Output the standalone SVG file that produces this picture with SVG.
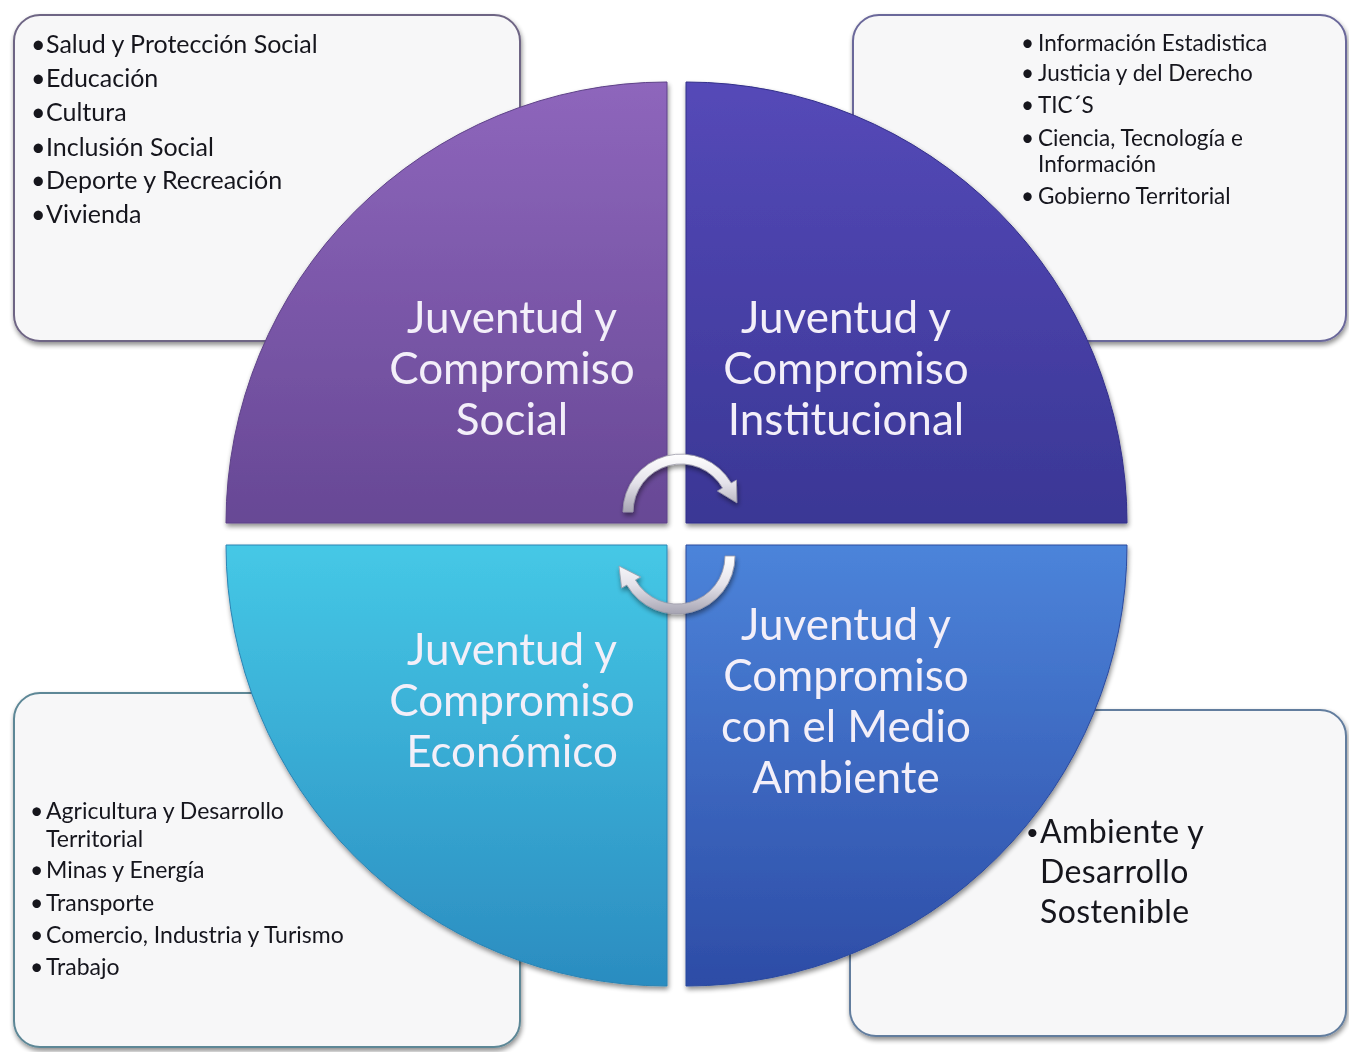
<svg xmlns="http://www.w3.org/2000/svg" width="1349" height="1052" viewBox="0 0 1349 1052">
<defs>
<filter id="sh" x="-10%" y="-10%" width="120%" height="120%">
<feGaussianBlur in="SourceAlpha" stdDeviation="2.5"/>
<feOffset dx="1" dy="3" result="b"/>
<feComponentTransfer><feFuncA type="linear" slope="0.45"/></feComponentTransfer>
<feMerge><feMergeNode/><feMergeNode in="SourceGraphic"/></feMerge>
</filter>
<linearGradient id="gTL" x1="0" y1="0" x2="0" y2="1"><stop offset="0" stop-color="#8e66bc"/><stop offset="1" stop-color="#674895"/></linearGradient>
<linearGradient id="gTR" x1="0" y1="0" x2="0" y2="1"><stop offset="0" stop-color="#5549b8"/><stop offset="1" stop-color="#3a3795"/></linearGradient>
<linearGradient id="gBL" x1="0" y1="0" x2="0" y2="1"><stop offset="0" stop-color="#45c8e6"/><stop offset="1" stop-color="#2b8cc0"/></linearGradient>
<linearGradient id="gBR" x1="0" y1="0" x2="0" y2="1"><stop offset="0" stop-color="#4c84da"/><stop offset="1" stop-color="#2d4ca6"/></linearGradient>
<linearGradient id="gAr" x1="0" y1="0" x2="0" y2="1"><stop offset="0" stop-color="#ffffff"/><stop offset="0.5" stop-color="#e4e2ea"/><stop offset="1" stop-color="#a6a4b2"/></linearGradient>
<style>
.box{fill:#f7f7f8;stroke-width:2}
.q{stroke-width:1}
.lbl{font-family:Lato,"Open Sans","Liberation Sans",sans-serif;font-size:44px;fill:#f3eff9;text-anchor:middle}
.li{font-family:Lato,"Open Sans","Liberation Sans",sans-serif;fill:#15151e}
.t1{font-size:25px}
.t2{font-size:22.5px}
.t3{font-size:23px}
.t4{font-size:32px;letter-spacing:0.4px}
.bu{font-size:22px}
.arr{fill:url(#gAr);stroke:#9c9aa8;stroke-width:0.8}
</style>
</defs>
<rect width="1349" height="1052" fill="#ffffff"/>

<g id="box-social" filter="url(#sh)">
<rect class="box" x="14" y="15" width="506" height="326" rx="26" stroke="#6e6584"/>
<text class="li t1"><tspan x="31" y="53">•</tspan><tspan x="46" y="53">Salud y Protección Social</tspan></text>
<text class="li t1"><tspan x="31" y="87">•</tspan><tspan x="46" y="87">Educación</tspan></text>
<text class="li t1"><tspan x="31" y="121">•</tspan><tspan x="46" y="121">Cultura</tspan></text>
<text class="li t1"><tspan x="31" y="156">•</tspan><tspan x="46" y="156">Inclusión Social</tspan></text>
<text class="li t1"><tspan x="31" y="189">•</tspan><tspan x="46" y="189">Deporte y Recreación</tspan></text>
<text class="li t1"><tspan x="31" y="223">•</tspan><tspan x="46" y="223">Vivienda</tspan></text>
</g>

<g id="box-institucional" filter="url(#sh)">
<rect class="box" x="853" y="15" width="493" height="326" rx="26" stroke="#6a679a"/>
<text class="li t2"><tspan x="1021" y="51">•</tspan><tspan x="1038" y="51">Información Estadistica</tspan></text>
<text class="li t2"><tspan x="1021" y="81">•</tspan><tspan x="1038" y="81">Justicia y del Derecho</tspan></text>
<text class="li t2"><tspan x="1021" y="113">•</tspan><tspan x="1038" y="113">TIC´S</tspan></text>
<text class="li t2"><tspan x="1021" y="146">•</tspan><tspan x="1038" y="146">Ciencia, Tecnología e</tspan></text>
<text class="li t2"><tspan x="1038" y="172">Información</tspan></text>
<text class="li t2"><tspan x="1021" y="204">•</tspan><tspan x="1038" y="204">Gobierno Territorial</tspan></text>
</g>

<g id="box-economico" filter="url(#sh)">
<rect class="box" x="14" y="693" width="506" height="354" rx="26" stroke="#5d8796"/>
<text class="li t3"><tspan x="30" y="819">•</tspan><tspan x="46" y="819">Agricultura y Desarrollo</tspan></text>
<text class="li t3"><tspan x="46" y="847">Territorial</tspan></text>
<text class="li t3"><tspan x="30" y="878">•</tspan><tspan x="46" y="878">Minas y Energía</tspan></text>
<text class="li t3"><tspan x="30" y="911">•</tspan><tspan x="46" y="911">Transporte</tspan></text>
<text class="li t3"><tspan x="30" y="943">•</tspan><tspan x="46" y="943">Comercio, Industria y Turismo</tspan></text>
<text class="li t3"><tspan x="30" y="975">•</tspan><tspan x="46" y="975">Trabajo</tspan></text>
</g>

<g id="box-ambiente" filter="url(#sh)">
<rect class="box" x="850" y="710" width="496" height="326" rx="26" stroke="#627d9e"/>
<text class="li bu" x="1026" y="840">•</text>
<text class="li t4"><tspan x="1040" y="843">Ambiente y</tspan></text>
<text class="li t4"><tspan x="1040" y="883">Desarrollo</tspan></text>
<text class="li t4"><tspan x="1040" y="923">Sostenible</tspan></text>
</g>

<g id="q-social" filter="url(#sh)">
<path class="q" d="M 667 523 L 226 523 A 441 441 0 0 1 667 82 Z" fill="url(#gTL)" stroke="#5e4288"/>
<text class="lbl"><tspan x="512" y="333">Juventud y</tspan><tspan x="512" y="384">Compromiso</tspan><tspan x="512" y="435">Social</tspan></text>
</g>
<g id="q-institucional" filter="url(#sh)">
<path class="q" d="M 686 523 L 686 82 A 441 441 0 0 1 1127 523 Z" fill="url(#gTR)" stroke="#33308a"/>
<text class="lbl"><tspan x="846" y="333">Juventud y</tspan><tspan x="846" y="384">Compromiso</tspan><tspan x="846" y="435">Institucional</tspan></text>
</g>
<g id="q-economico" filter="url(#sh)">
<path class="q" d="M 667 545 L 667 986 A 441 441 0 0 1 226 545 Z" fill="url(#gBL)" stroke="#2a84b4"/>
<text class="lbl"><tspan x="512" y="665">Juventud y</tspan><tspan x="512" y="716">Compromiso</tspan><tspan x="512" y="767">Económico</tspan></text>
</g>
<g id="q-ambiente" filter="url(#sh)">
<path class="q" d="M 686 545 L 1127 545 A 441 441 0 0 1 686 986 Z" fill="url(#gBR)" stroke="#2b4a9e"/>
<text class="lbl"><tspan x="846" y="640">Juventud y</tspan><tspan x="846" y="691">Compromiso</tspan><tspan x="846" y="742">con el Medio</tspan><tspan x="846" y="793">Ambiente</tspan></text>
</g>

<g id="connectors" filter="url(#sh)">
<path class="arr" d="M 623 512 A 58 58 0 0 1 731.2 483 L 736.4 480 L 736.9 502.8 L 717.4 491 L 722.6 488 A 48 48 0 0 0 633 512 Z"/>
<path class="arr" d="M 735 556 A 58 58 0 0 1 626.8 585 L 621.6 588 L 619 566 L 640.6 577 L 635.4 580 A 48 48 0 0 0 725 556 Z"/>
</g>
</svg>
